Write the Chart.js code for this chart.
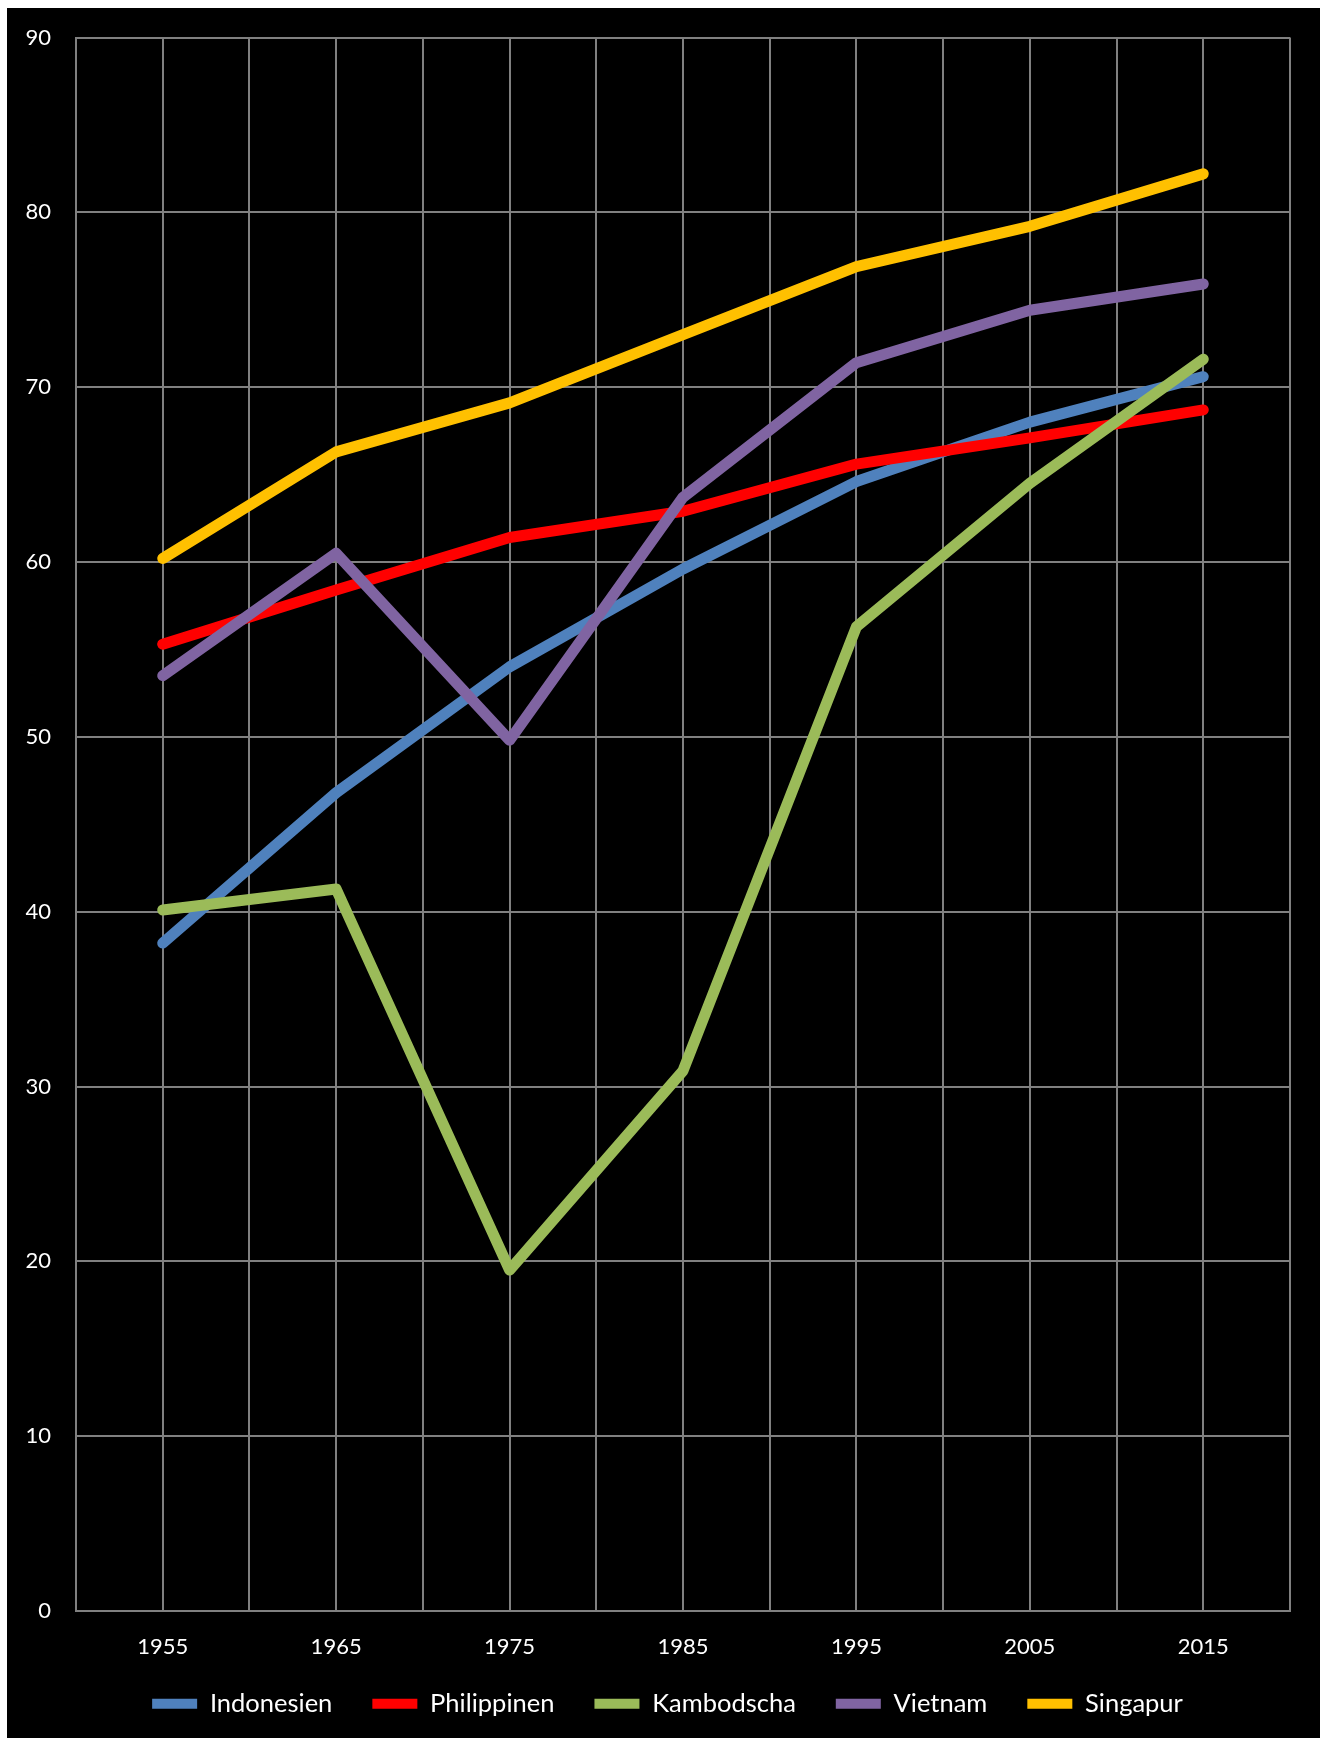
<!DOCTYPE html>
<html>
<head>
<meta charset="utf-8">
<script src="https://cdn.jsdelivr.net/npm/chart.js@4.4.1/dist/chart.umd.min.js"></script>
<style>
  html, body { margin: 0; padding: 0; background: #ffffff; width: 1328px; height: 1738px; overflow: hidden; }
  #wrap { position: absolute; left: 7px; top: 8px; width: 1313px; height: 1730px; background: #000000; }
  canvas { display: block; }
</style>
</head>
<body>
<div id="wrap"><canvas id="c" width="1313" height="1730"></canvas></div>
<script>
// ---- data ----
const years = [1955, 1965, 1975, 1985, 1995, 2005, 2015];
const seriesNames = ["Indonesien", "Philippinen", "Kambodscha", "Vietnam", "Singapur"];
const indonesien  = [38.2, 46.8, 54.0, 59.6, 64.6, 68.0, 70.6];
const philippinen = [55.3, 58.4, 61.4, 62.9, 65.6, 67.1, 68.7];
const kambodscha  = [40.1, 41.3, 19.5, 30.9, 56.3, 64.5, 71.6];
const vietnam     = [53.5, 60.5, 49.8, 63.7, 71.4, 74.4, 75.9];
const singapur    = [60.2, 66.3, 69.1, 73.0, 76.9, 79.2, 82.2];
const yTicks = [0, 10, 20, 30, 40, 50, 60, 70, 80, 90];

const seriesValues = [indonesien, philippinen, kambodscha, vietnam, singapur];
const seriesColors = ["#4F81BD", "#FF0000", "#9BBB59", "#8064A2", "#FFC000"];

const gridColor = "#808080";
const fontFamily = "Lato, 'Open Sans', sans-serif";

const datasets = seriesNames.map((name, i) => ({
  label: name,
  data: years.map((yr, j) => ({ x: yr, y: seriesValues[i][j] })),
  borderColor: seriesColors[i],
  backgroundColor: seriesColors[i],
  borderWidth: 11,
  borderCapStyle: "round",
  borderJoinStyle: "round",
  pointRadius: 0,
  pointHoverRadius: 0,
  pointStyle: "line",
  tension: 0,
  fill: false,
  order: seriesNames.length - i
}));

Chart.defaults.color = "#ffffff";
Chart.defaults.font.family = fontFamily;

new Chart(document.getElementById("c"), {
  type: "line",
  data: { datasets },
  options: {
    responsive: false,
    animation: false,
    devicePixelRatio: 1,
    layout: { padding: { left: 8, right: 0, top: 29.5, bottom: 11.45 } },
    plugins: {
      tooltip: { enabled: false },
      legend: {
        position: "bottom",
        labels: {
          color: "#ffffff",
          font: { size: 25.5, family: fontFamily },
          usePointStyle: true,
          pointStyleWidth: 45,
          padding: 40,
          sort: (a, b) => a.datasetIndex - b.datasetIndex,
          generateLabels: (chart) =>
            Chart.defaults.plugins.legend.labels.generateLabels(chart)
              .map(l => Object.assign(l, { lineWidth: 10 }))
        }
      }
    },
    scales: {
      x: {
        type: "linear",
        min: 1950,
        max: 2020,
        afterFit: (s) => { s.height = 40.05; s.paddingLeft = 0; s.paddingRight = 30; },
        ticks: {
          stepSize: 5,
          autoSkip: false,
          maxRotation: 0,
          mirror: true,
          padding: -48.9,
          color: "#ffffff",
          font: { size: 22, family: fontFamily },
          callback: (v) => (years.includes(v) ? String(v) : "")
        },
        grid: { color: gridColor, lineWidth: 2, drawTicks: false },
        border: { display: true, color: gridColor, width: 2 }
      },
      y: {
        type: "linear",
        min: yTicks[0],
        max: yTicks[yTicks.length - 1],
        afterFit: (s) => { s.width = 61; s.paddingTop = 0; s.paddingBottom = 0; },
        afterBuildTicks: (s) => { s.ticks = yTicks.map(v => ({ value: v })); },
        ticks: {
          padding: 25,
          color: "#ffffff",
          font: { size: 22, family: fontFamily }
        },
        grid: { color: gridColor, lineWidth: 2, drawTicks: false },
        border: { display: true, color: gridColor, width: 2 }
      }
    }
  }
});
</script>
</body>
</html>
